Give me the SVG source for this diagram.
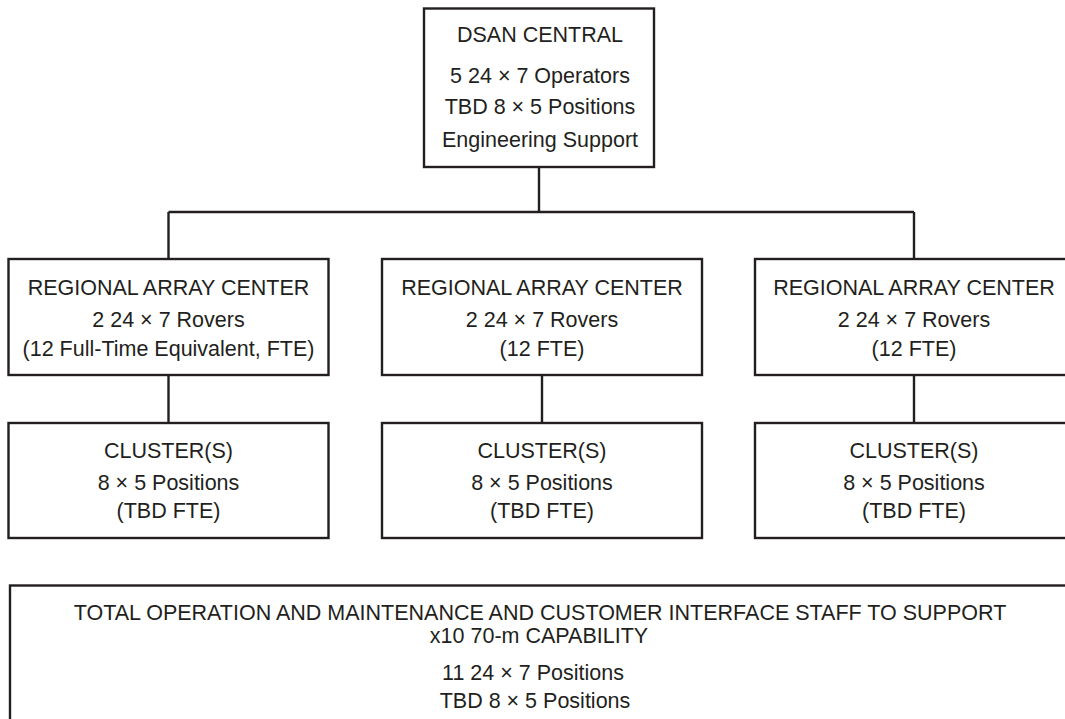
<svg xmlns="http://www.w3.org/2000/svg" width="1065" height="719" viewBox="0 0 1065 719">
<style>
.box{fill:#fff;stroke:#231f20;stroke-width:2.4}
.ln{fill:none;stroke:#231f20;stroke-width:2.4}
text{font-family:"Liberation Sans",Arial,sans-serif;font-size:21.5px;fill:#231f20;text-anchor:middle}
</style>
<rect width="1065" height="719" fill="#fff"/>
<g id="connectors">
<line class="ln" x1="539" y1="167" x2="539" y2="212"/>
<line class="ln" x1="168.5" y1="212" x2="914" y2="212"/>
<line class="ln" x1="168.5" y1="212" x2="168.5" y2="259"/>
<line class="ln" x1="914" y1="212" x2="914" y2="259"/>
<line class="ln" x1="168.5" y1="375" x2="168.5" y2="423"/>
<line class="ln" x1="542" y1="375" x2="542" y2="423"/>
<line class="ln" x1="914" y1="375" x2="914" y2="423"/>
</g>
<g id="dsan-central">
<rect class="box" x="424" y="8.5" width="230" height="158.5"/>
<text x="540" y="42">DSAN CENTRAL</text>
<text x="540" y="83">5 24 × 7 Operators</text>
<text x="540" y="114">TBD 8 × 5 Positions</text>
<text x="540" y="147">Engineering Support</text>
</g>
<g id="rac-1">
<rect class="box" x="8.5" y="259" width="320" height="116"/>
<text x="168.5" y="295">REGIONAL ARRAY CENTER</text>
<text x="168.5" y="327">2 24 × 7 Rovers</text>
<text x="168.5" y="356">(12 Full-Time Equivalent, FTE)</text>
</g>
<g id="rac-2">
<rect class="box" x="382" y="259" width="320" height="116"/>
<text x="542" y="295">REGIONAL ARRAY CENTER</text>
<text x="542" y="327">2 24 × 7 Rovers</text>
<text x="542" y="356">(12 FTE)</text>
</g>
<g id="rac-3">
<rect class="box" x="755" y="259" width="318" height="116"/>
<text x="914" y="295">REGIONAL ARRAY CENTER</text>
<text x="914" y="327">2 24 × 7 Rovers</text>
<text x="914" y="356">(12 FTE)</text>
</g>
<g id="cluster-1">
<rect class="box" x="8.5" y="423" width="320" height="115"/>
<text x="168.5" y="458">CLUSTER(S)</text>
<text x="168.5" y="490">8 × 5 Positions</text>
<text x="168.5" y="518">(TBD FTE)</text>
</g>
<g id="cluster-2">
<rect class="box" x="382" y="423" width="320" height="115"/>
<text x="542" y="458">CLUSTER(S)</text>
<text x="542" y="490">8 × 5 Positions</text>
<text x="542" y="518">(TBD FTE)</text>
</g>
<g id="cluster-3">
<rect class="box" x="755" y="423" width="318" height="115"/>
<text x="914" y="458">CLUSTER(S)</text>
<text x="914" y="490">8 × 5 Positions</text>
<text x="914" y="518">(TBD FTE)</text>
</g>
<g id="total">
<rect class="box" x="10" y="585.5" width="1070" height="150"/>
<text x="540" y="620">TOTAL OPERATION AND MAINTENANCE AND CUSTOMER INTERFACE STAFF TO SUPPORT</text>
<text x="539" y="643">x10 70-m CAPABILITY</text>
<text x="533" y="680">11 24 × 7 Positions</text>
<text x="535" y="708">TBD 8 × 5 Positions</text>
</g>
</svg>
